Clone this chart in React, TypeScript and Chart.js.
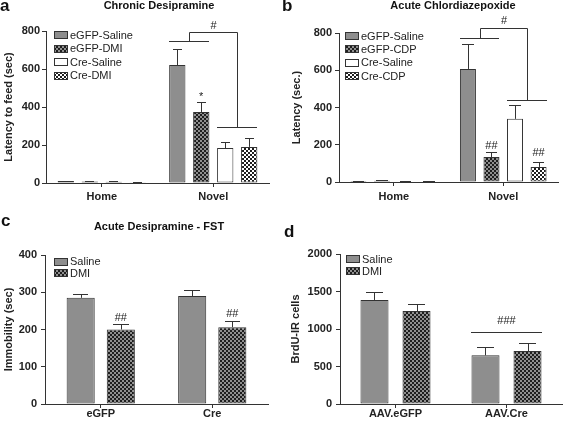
import React, { useEffect, useRef } from "react";
import { Chart, registerables } from "chart.js";
Chart.register(...registerables);

const FONT = "'Liberation Sans', Arial, Helvetica, sans-serif";
const INK = "#222222";
const LINE = "#333333";

// ---------- Panel a: Chronic Desipramine ----------
const aCategories = ["Home", "Novel"];
const aLabels = ["eGFP-Saline", "eGFP-DMI", "Cre-Saline", "Cre-DMI"];
const aEGFPSaline = [10, 621];
const aEGFPDMI = [8, 374];
const aCreSaline = [6, 184];
const aCreDMI = [4, 190];
const aEGFPSalineErr = [3, 84];
const aEGFPDMIErr = [2, 52];
const aCreSalineErr = [2, 32];
const aCreDMIErr = [2, 46];
const aYTicks = [0, 200, 400, 600, 800];

// ---------- Panel b: Acute Chlordiazepoxide ----------
const bCategories = ["Home", "Novel"];
const bLabels = ["eGFP-Saline", "eGFP-CDP", "Cre-Saline", "Cre-CDP"];
const bEGFPSaline = [5, 607];
const bEGFPCDP = [7, 134];
const bCreSaline = [3, 339];
const bCreCDP = [3, 81];
const bEGFPSalineErr = [2, 135];
const bEGFPCDPErr = [2, 27];
const bCreSalineErr = [1, 75];
const bCreCDPErr = [1, 26];
const bYTicks = [0, 200, 400, 600, 800];

// ---------- Panel c: Acute Desipramine - FST ----------
const cCategories = ["eGFP", "Cre"];
const cLabels = ["Saline", "DMI"];
const cSaline = [285, 290];
const cDMI = [200, 206];
const cSalineErr = [10, 15];
const cDMIErr = [16, 17];
const cYTicks = [0, 100, 200, 300, 400];

// ---------- Panel d: BrdU ----------
const dCategories = ["AAV.eGFP", "AAV.Cre"];
const dLabels = ["Saline", "DMI"];
const dSaline = [1387, 649];
const dDMI = [1240, 707];
const dSalineErr = [110, 115];
const dDMIErr = [97, 110];
const dYTicks = [0, 500, 1000, 1500, 2000];

type Fill = "gray" | "dark" | "white" | "light";

interface Series { label: string; data: number[]; err: number[]; fill: Fill; }
interface Bracket { cat: number; left: [number, number]; right: [number, number]; leftValue: number; topValue: number; rightValue: number; text: string; textValue: number; }
interface Mark { ds: number; cat: number; text: string; value: number; }
interface HLine { cat: number; from: number; to: number; value: number; text: string; textValue: number; }
interface PanelSpec {
  x: number; y: number; w: number; h: number;
  area: { left: number; top: number; right: number; bottom: number };
  categories: string[];
  series: Series[];
  yTicks: number[];
  yTitle: string; yTitlePad: number; yTickPad: number; xTickPad: number;
  catPct: number; barPct: number; capFrac: number;
  letter: string; letterX: number; letterY: number;
  title?: string; titleX?: number; titleY?: number;
  legend: { x: number; y: number; row: number };
  brackets?: Bracket[]; marks?: Mark[]; hlines?: HLine[];
}

const panelA: PanelSpec = {
  x: 0, y: 0, w: 282, h: 210,
  area: { left: 46, top: 31, right: 269, bottom: 183 },
  categories: aCategories,
  series: [
    { label: aLabels[0], data: aEGFPSaline, err: aEGFPSalineErr, fill: "gray" },
    { label: aLabels[1], data: aEGFPDMI, err: aEGFPDMIErr, fill: "dark" },
    { label: aLabels[2], data: aCreSaline, err: aCreSalineErr, fill: "white" },
    { label: aLabels[3], data: aCreDMI, err: aCreDMIErr, fill: "light" },
  ],
  yTicks: aYTicks,
  yTitle: "Latency to feed (sec)", yTitlePad: 2, yTickPad: 2, xTickPad: 3,
  catPct: 0.86, barPct: 0.68, capFrac: 0.55,
  letter: "a", letterX: 0, letterY: 11,
  title: "Chronic Desipramine", titleX: 159, titleY: 6,
  legend: { x: 54, y: 35, row: 13.5 },
  brackets: [{ cat: 1, left: [0, 1], right: [2, 3], leftValue: 747, topValue: 795, rightValue: 295, text: "#", textValue: 828 }],
  marks: [{ ds: 1, cat: 1, text: "*", value: 452 }],
};

const panelB: PanelSpec = {
  x: 282, y: 0, w: 281, h: 210,
  area: { left: 57, top: 33, right: 276, bottom: 182 },
  categories: bCategories,
  series: [
    { label: bLabels[0], data: bEGFPSaline, err: bEGFPSalineErr, fill: "gray" },
    { label: bLabels[1], data: bEGFPCDP, err: bEGFPCDPErr, fill: "dark" },
    { label: bLabels[2], data: bCreSaline, err: bCreSalineErr, fill: "white" },
    { label: bLabels[3], data: bCreCDP, err: bCreCDPErr, fill: "light" },
  ],
  yTicks: bYTicks,
  yTitle: "Latency (sec.)", yTitlePad: 8.5, yTickPad: 3, xTickPad: 4,
  catPct: 0.86, barPct: 0.68, capFrac: 0.7,
  letter: "b", letterX: 0, letterY: 11,
  title: "Acute Chlordiazepoxide", titleX: 171, titleY: 6,
  legend: { x: 63, y: 36, row: 13.4 },
  brackets: [{ cat: 1, left: [0, 1], right: [2, 3], leftValue: 774, topValue: 828, rightValue: 441, text: "#", textValue: 862 }],
  marks: [
    { ds: 1, cat: 1, text: "##", value: 194 },
    { ds: 3, cat: 1, text: "##", value: 156 },
  ],
};

const panelC: PanelSpec = {
  x: 0, y: 210, w: 282, h: 216,
  area: { left: 45, top: 45, right: 268, bottom: 194 },
  categories: cCategories,
  series: [
    { label: cLabels[0], data: cSaline, err: cSalineErr, fill: "gray" },
    { label: cLabels[1], data: cDMI, err: cDMIErr, fill: "dark" },
  ],
  yTicks: cYTicks,
  yTitle: "Immobility (sec)", yTitlePad: 2.4, yTickPad: 4, xTickPad: -1,
  catPct: 0.72, barPct: 0.7, capFrac: 0.55,
  letter: "c", letterX: 1, letterY: 16,
  title: "Acute Desipramine - FST", titleX: 159, titleY: 17,
  legend: { x: 54, y: 51.7, row: 11.7 },
  marks: [
    { ds: 1, cat: 0, text: "##", value: 232 },
    { ds: 1, cat: 1, text: "##", value: 243 },
  ],
};

const panelD: PanelSpec = {
  x: 282, y: 210, w: 281, h: 216,
  area: { left: 58, top: 44, right: 280, bottom: 194 },
  categories: dCategories,
  series: [
    { label: dLabels[0], data: dSaline, err: dSalineErr, fill: "gray" },
    { label: dLabels[1], data: dDMI, err: dDMIErr, fill: "dark" },
  ],
  yTicks: dYTicks,
  yTitle: "BrdU-IR cells", yTitlePad: 7, yTickPad: 4, xTickPad: -1,
  catPct: 0.757, barPct: 0.667, capFrac: 0.6,
  letter: "d", letterX: 2, letterY: 27,
  legend: { x: 64, y: 49, row: 12 },
  hlines: [{ cat: 1, from: 0, to: 1, value: 964, text: "###", textValue: 1107 }],
};

const PANELS = [panelA, panelB, panelC, panelD];

function makeFill(kind: Fill): string | CanvasPattern {
  if (kind === "gray") return "#8e8e8e";
  if (kind === "white") return "#ffffff";
  const c = document.createElement("canvas");
  c.width = 4;
  c.height = 4;
  const g = c.getContext("2d")!;
  const bg = kind === "dark" ? "#1e1e1e" : "#ffffff";
  const fg = kind === "dark" ? "#8f8f8f" : "#1e1e1e";
  g.fillStyle = bg;
  g.fillRect(0, 0, 4, 4);
  g.fillStyle = fg;
  g.fillRect(0, 0, 2, 2);
  g.fillRect(2, 2, 2, 2);
  return g.createPattern(c, "repeat")!;
}

function px(v: number) {
  return Math.round(v) + 0.5;
}

function buildChart(canvas: HTMLCanvasElement, s: PanelSpec) {
  const fills = s.series.map((se) => makeFill(se.fill));
  const barAt = (chart: any, ds: number, cat: number) => chart.getDatasetMeta(ds).data[cat] as any;

  const decor = {
    id: "decor",
    afterDatasetsDraw(chart: any) {
      const ctx: CanvasRenderingContext2D = chart.ctx;
      const ys = chart.scales.y;
      ctx.save();
      ctx.strokeStyle = LINE;
      ctx.lineWidth = 1;
      s.series.forEach((se, i) => {
        const meta = chart.getDatasetMeta(i);
        meta.data.forEach((bar: any, j: number) => {
          const v = se.data[j];
          const e = se.err[j];
          if (!e) return;
          const x = px(bar.x);
          const y0 = ys.getPixelForValue(v);
          const y1 = px(ys.getPixelForValue(v + e));
          const hw = (bar.width * s.capFrac) / 2;
          ctx.beginPath();
          ctx.moveTo(x, y0);
          ctx.lineTo(x, y1);
          ctx.moveTo(Math.round(bar.x - hw), y1);
          ctx.lineTo(Math.round(bar.x + hw), y1);
          ctx.stroke();
        });
      });
      ctx.restore();
    },
    afterDraw(chart: any) {
      const ctx: CanvasRenderingContext2D = chart.ctx;
      const ys = chart.scales.y;
      ctx.save();
      // panel letter
      ctx.fillStyle = "#111";
      ctx.font = `bold 17px ${FONT}`;
      ctx.textAlign = "left";
      ctx.textBaseline = "alphabetic";
      ctx.fillText(s.letter, s.letterX, s.letterY);
      // title
      if (s.title) {
        ctx.font = `bold 11px ${FONT}`;
        ctx.textAlign = "center";
        ctx.textBaseline = "middle";
        ctx.fillText(s.title, s.titleX!, s.titleY!);
      }
      // legend
      ctx.font = `11px ${FONT}`;
      ctx.textAlign = "left";
      ctx.textBaseline = "middle";
      ctx.strokeStyle = LINE;
      ctx.lineWidth = 1;
      s.series.forEach((se, i) => {
        const cy = s.legend.y + i * s.legend.row;
        const top = Math.round(cy - 4);
        ctx.fillStyle = fills[i] as any;
        ctx.fillRect(s.legend.x, top, 14, 8);
        ctx.strokeRect(s.legend.x + 0.5, top + 0.5, 13, 7);
        ctx.fillStyle = INK;
        ctx.fillText(se.label, s.legend.x + 16, cy + 0.5);
      });
      // brackets
      ctx.strokeStyle = LINE;
      ctx.fillStyle = INK;
      (s.brackets || []).forEach((b) => {
        const l0 = barAt(chart, b.left[0], b.cat);
        const l1 = barAt(chart, b.left[1], b.cat);
        const r0 = barAt(chart, b.right[0], b.cat);
        const r1 = barAt(chart, b.right[1], b.cat);
        const lx0 = l0.x - l0.width / 2;
        const lx1 = l1.x + l1.width / 2;
        const rx0 = r0.x - r0.width / 2;
        const rx1 = r1.x + r1.width / 2;
        const lm = px((lx0 + lx1) / 2);
        const rm = px((rx0 + rx1) / 2);
        const yl = px(ys.getPixelForValue(b.leftValue));
        const yt = px(ys.getPixelForValue(b.topValue));
        const yr = px(ys.getPixelForValue(b.rightValue));
        ctx.beginPath();
        ctx.moveTo(Math.round(lx0), yl);
        ctx.lineTo(Math.round(lx1), yl);
        ctx.moveTo(lm, yl);
        ctx.lineTo(lm, yt);
        ctx.lineTo(rm, yt);
        ctx.lineTo(rm, yr);
        ctx.moveTo(Math.round(rx0), yr);
        ctx.lineTo(Math.round(rx1), yr);
        ctx.stroke();
        ctx.font = `11px ${FONT}`;
        ctx.textAlign = "center";
        ctx.textBaseline = "middle";
        ctx.fillText(b.text, (lm + rm) / 2, ys.getPixelForValue(b.textValue));
      });
      // horizontal significance lines
      (s.hlines || []).forEach((h) => {
        const a = barAt(chart, h.from, h.cat);
        const z = barAt(chart, h.to, h.cat);
        const x0 = a.x - a.width / 2;
        const x1 = z.x + z.width / 2;
        const yy = px(ys.getPixelForValue(h.value));
        ctx.beginPath();
        ctx.moveTo(Math.round(x0), yy);
        ctx.lineTo(Math.round(x1), yy);
        ctx.stroke();
        ctx.font = `11px ${FONT}`;
        ctx.textAlign = "center";
        ctx.textBaseline = "middle";
        ctx.fillText(h.text, (x0 + x1) / 2, ys.getPixelForValue(h.textValue));
      });
      // marks
      (s.marks || []).forEach((m) => {
        const bar = barAt(chart, m.ds, m.cat);
        ctx.font = `11px ${FONT}`;
        ctx.textAlign = "center";
        ctx.textBaseline = "middle";
        ctx.fillText(m.text, bar.x, ys.getPixelForValue(m.value));
      });
      ctx.restore();
    },
  };

  const tickFont = { family: FONT, size: 11, weight: "bold" as const };

  return new Chart(canvas, {
    type: "bar",
    data: {
      labels: s.categories,
      datasets: s.series.map((se, i) => ({
        label: se.label,
        data: se.data,
        backgroundColor: fills[i] as any,
        borderColor: LINE,
        borderWidth: 1,
        borderSkipped: false,
        categoryPercentage: s.catPct,
        barPercentage: s.barPct,
      })),
    },
    options: {
      responsive: false,
      animation: false,
      devicePixelRatio: 1,
      layout: { padding: { left: 0, top: s.area.top, right: s.w - s.area.right, bottom: 0 } },
      plugins: {
        legend: { display: false },
        title: { display: false },
        tooltip: { enabled: false },
      },
      scales: {
        x: {
          type: "category",
          offset: true,
          grid: { display: true, drawOnChartArea: false, drawTicks: true, tickLength: 4, offset: false, color: LINE },
          border: { display: true, color: LINE, width: 1 },
          ticks: { font: tickFont, color: INK, padding: s.xTickPad, maxRotation: 0, autoSkip: false },
          afterFit: (sc: any) => {
            sc.height = s.h - s.area.bottom;
          },
        },
        y: {
          type: "linear",
          min: s.yTicks[0],
          max: s.yTicks[s.yTicks.length - 1],
          grid: { display: true, drawOnChartArea: false, drawTicks: true, tickLength: 4, color: LINE },
          border: { display: true, color: LINE, width: 1 },
          ticks: { font: tickFont, color: INK, padding: s.yTickPad, callback: (v: any) => String(v) },
          afterBuildTicks: (sc: any) => {
            sc.ticks = s.yTicks.map((v) => ({ value: v }));
          },
          title: {
            display: true,
            text: s.yTitle,
            color: INK,
            font: { family: FONT, size: 11, weight: "bold", lineHeight: 1.2 },
            padding: { top: s.yTitlePad, bottom: 0 },
          },
          afterFit: (sc: any) => {
            sc.width = s.area.left;
          },
        },
      },
    } as any,
    plugins: [decor],
  });
}

function Panel({ spec }: { spec: PanelSpec }) {
  const ref = useRef<HTMLCanvasElement>(null);
  useEffect(() => {
    const chart = buildChart(ref.current!, spec);
    return () => chart.destroy();
  }, [spec]);
  return (
    <canvas
      ref={ref}
      width={spec.w}
      height={spec.h}
      style={{ position: "absolute", left: spec.x, top: spec.y, width: spec.w, height: spec.h }}
    />
  );
}

export default function App() {
  return (
    <div style={{ position: "absolute", left: 0, top: 0, width: 563, height: 426, background: "#ffffff", overflow: "hidden" }}>
      {PANELS.map((p, i) => (
        <Panel key={i} spec={p} />
      ))}
    </div>
  );
}
